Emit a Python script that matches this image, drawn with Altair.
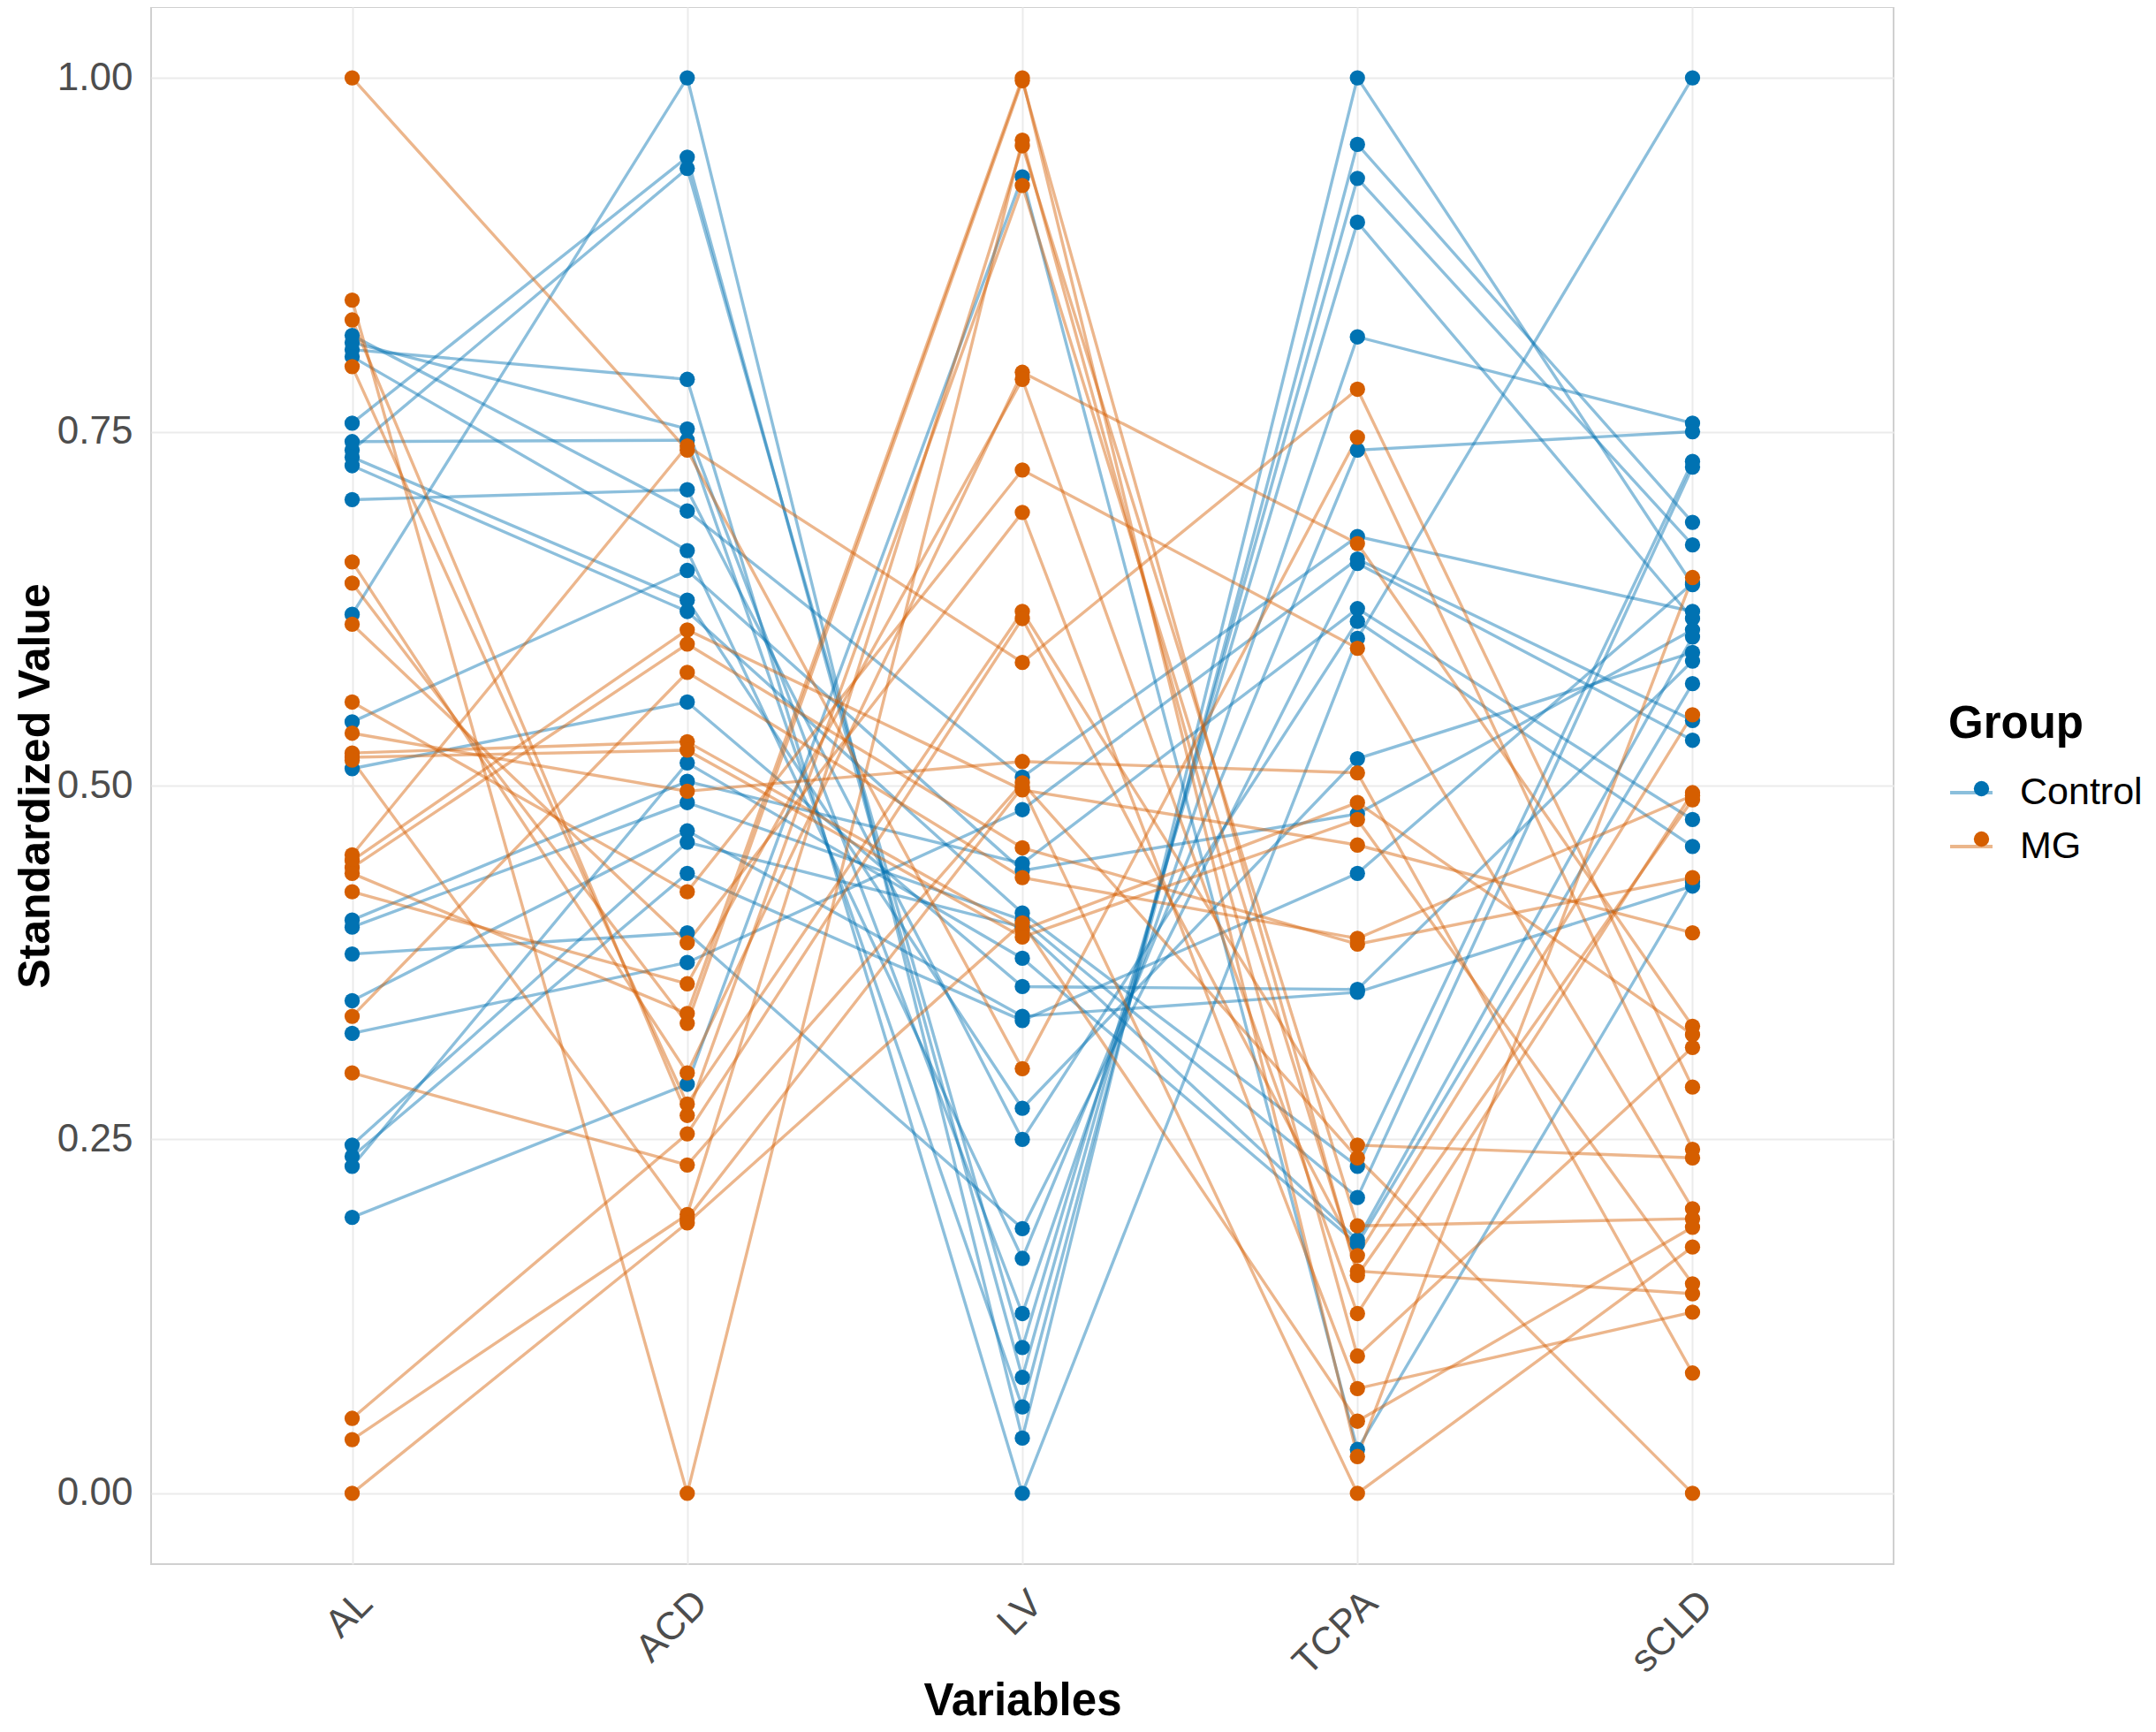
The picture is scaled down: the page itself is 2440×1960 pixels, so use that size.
import altair as alt
import pandas as pd

variables = ["AL", "ACD", "LV", "TCPA", "sCLD"]
groups = ["Control", "MG"]
colors = ["#0072B2", "#D55E00"]

# Control subjects (each index = one subject)
ctrl_AL = [0.621, 0.756, 0.737, 0.808, 0.813, 0.743, 0.702, 0.818, 0.803, 0.732, 0.726,
           0.545, 0.512, 0.405, 0.400, 0.381, 0.348, 0.325, 0.246, 0.238, 0.231, 0.195]
ctrl_ACD = [1.000, 0.944, 0.936, 0.787, 0.752, 0.744, 0.709, 0.694, 0.666, 0.631, 0.623,
            0.652, 0.559, 0.503, 0.488, 0.396, 0.468, 0.375, 0.460, 0.438, 0.516, 0.289]
ctrl_LV = [0.039, 0.082, 0.103, 0.000, 0.127, 0.061, 0.250, 0.506, 0.166, 0.272, 0.410,
           0.440, 0.358, 0.445, 0.405, 0.187, 0.337, 0.483, 0.400, 0.334, 0.378, 0.930]
ctrl_TCPA = [1.000, 0.929, 0.898, 0.604, 0.817, 0.953, 0.616, 0.676, 0.737, 0.519, 0.231,
             0.480, 0.356, 0.625, 0.209, 0.657, 0.354, 0.660, 0.179, 0.438, 0.176, 0.031]
ctrl_sCLD = [0.642, 0.670, 0.618, 1.000, 0.756, 0.686, 0.457, 0.623, 0.750, 0.594, 0.729,
             0.610, 0.588, 0.476, 0.725, 0.532, 0.429, 0.546, 0.605, 0.643, 0.572, 0.432]

# MG subjects
mg_AL = [1.000, 0.843, 0.829, 0.796, 0.658, 0.643, 0.614, 0.559, 0.537, 0.523, 0.520,
         0.518, 0.451, 0.447, 0.442, 0.438, 0.425, 0.337, 0.297, 0.053, 0.038, 0.000]
mg_ACD = [0.737, 0.000, 0.267, 0.275, 0.297, 0.332, 0.389, 0.425, 0.496, 0.531, 0.525,
          0.194, 0.740, 0.610, 0.600, 0.339, 0.360, 0.580, 0.232, 0.254, 0.197, 0.191]
mg_LV = [0.300, 0.956, 0.924, 0.623, 0.792, 0.998, 0.693, 0.723, 0.517, 0.398, 0.393,
         0.499, 0.587, 0.497, 0.456, 1.000, 0.787, 0.435, 0.502, 0.618, 0.952, 0.403]
mg_TCPA = [0.746, 0.097, 0.157, 0.246, 0.671, 0.154, 0.074, 0.597, 0.509, 0.488, 0.476,
           0.000, 0.780, 0.458, 0.388, 0.026, 0.127, 0.392, 0.237, 0.168, 0.189, 0.051]
mg_sCLD = [0.243, 0.315, 0.141, 0.237, 0.330, 0.490, 0.128, 0.201, 0.085, 0.324, 0.148,
           0.174, 0.287, 0.396, 0.435, 0.647, 0.495, 0.493, 0.000, 0.550, 0.194, 0.188]

series = {
    "Control": [ctrl_AL, ctrl_ACD, ctrl_LV, ctrl_TCPA, ctrl_sCLD],
    "MG": [mg_AL, mg_ACD, mg_LV, mg_TCPA, mg_sCLD],
}

rows = []
for g in groups:
    cols = series[g]
    for i in range(len(cols[0])):
        for k, v in enumerate(variables):
            rows.append({"id": f"{g}_{i}", "group": g, "group2": g,
                         "variable": v, "vidx": k, "value": cols[k][i]})
df = pd.DataFrame(rows)

FONT = "Liberation Sans"

x_enc = alt.X("variable:N", sort=variables,
              scale=alt.Scale(type="point", padding=0.6),
              axis=alt.Axis(title="Variables", labelAngle=315, labelAlign="right",
                            labelBaseline="top", labelFontSize=44, labelColor="#4D4D4D",
                            labelPadding=22, ticks=False, domain=False, grid=True,
                            gridColor="#EBEBEB", gridWidth=2, titleFontSize=51,
                            titleFontWeight="bold", titleColor="black", titlePadding=-3))
y_enc = alt.Y("value:Q", scale=alt.Scale(domain=[-0.05, 1.05], nice=False, zero=False),
              axis=alt.Axis(title="Standardized Value", values=[0, 0.25, 0.5, 0.75, 1.0],
                            format=".2f", labelFontSize=44, labelColor="#4D4D4D",
                            labelPadding=21, ticks=False, domain=False, grid=True,
                            gridColor="#EBEBEB", gridWidth=2, titleFontSize=50,
                            titleFontWeight="bold", titleColor="black", titlePadding=-1))

LX, LY = 2034, 787

lines = alt.Chart(df).mark_line(strokeWidth=3.4, opacity=0.45).encode(
    x=x_enc, y=y_enc, detail="id:N", order=alt.Order("vidx:Q"),
    stroke=alt.Stroke("group:N", scale=alt.Scale(domain=groups, range=colors),
                      legend=alt.Legend(title="Group", orient="none", legendX=LX, legendY=LY,
                                        titleFontSize=51, titleFontWeight="bold",
                                        titleColor="black", labelFontSize=43,
                                        labelColor="black", symbolType="stroke",
                                        symbolSize=2304, symbolStrokeWidth=4,
                                        symbolOpacity=0.45, labelOffset=29,
                                        titlePadding=25, rowPadding=13, padding=0)),
)

points = alt.Chart(df).mark_circle(size=300, opacity=1).encode(
    x=x_enc, y=y_enc,
    fill=alt.Fill("group2:N", scale=alt.Scale(range=colors),
                  legend=alt.Legend(title=" ", orient="none", legendX=LX, legendY=LY,
                                    titleFontSize=51, titleFontWeight="bold",
                                    titleOpacity=0, labelOpacity=0, labelExpr="''",
                                    labelFontSize=43,
                                    symbolType="circle", symbolSize=300,
                                    symbolStrokeWidth=0, symbolOpacity=1,
                                    symbolOffset=16, labelOffset=64,
                                    titlePadding=25, rowPadding=13, padding=0)),
)

chart = alt.layer(lines, points).properties(
    width=1972, height=1762,
    autosize=alt.AutoSizeParams(type="none"),
    padding={"left": 163, "top": 0, "right": 285, "bottom": 182},
).configure(font=FONT).configure_view(stroke="#D0D0D0", strokeWidth=2)

chart.save("out.html", embed_options={"renderer": "svg", "actions": False})
